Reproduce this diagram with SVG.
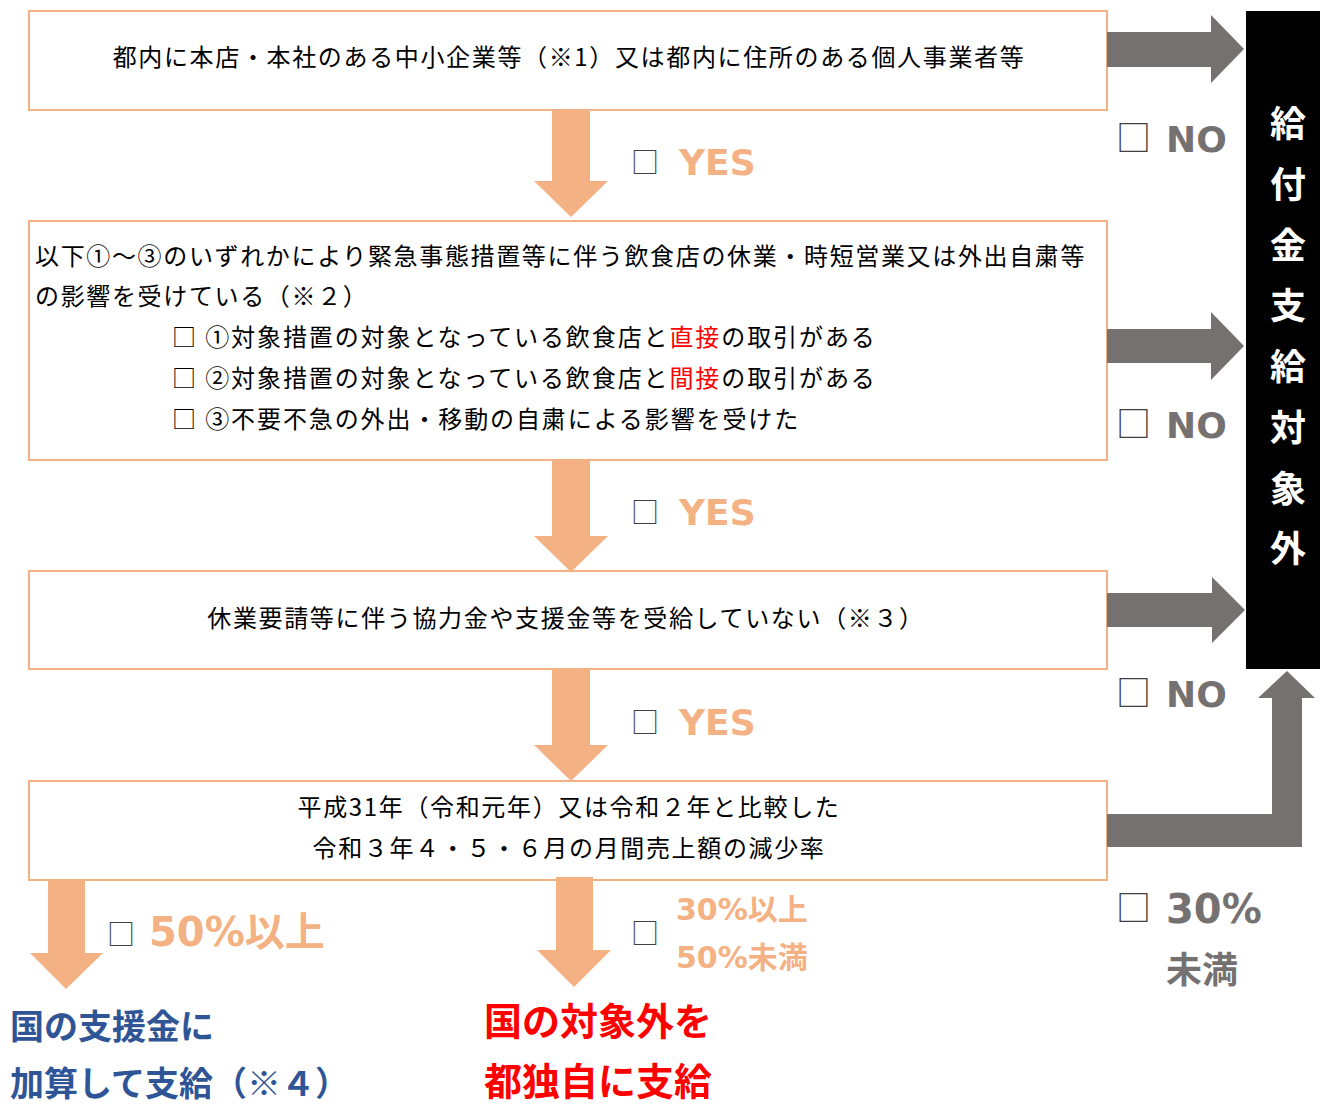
<svg xmlns="http://www.w3.org/2000/svg" width="1320" height="1106" viewBox="0 0 1320 1106">
<style>
.box{fill:#fff;stroke:#F4B183;stroke-width:2}
.t{font-family:"Noto Sans CJK JP","Noto Sans",sans-serif;font-size:24px;fill:#000;letter-spacing:1.65px}
.red{fill:#FF0000}
.oa{fill:#F4B183}
.ga{fill:#767171}
.cb{font-family:"Noto Sans CJK JP",sans-serif;fill:#404040}
.yes{font-family:"DejaVu Sans","Noto Sans CJK JP",sans-serif;font-weight:bold;font-size:36px;fill:#F4B183}
.no{font-family:"DejaVu Sans","Noto Sans CJK JP",sans-serif;font-weight:bold;font-size:36px;fill:#767171}
.vt{font-family:"Noto Sans CJK JP",sans-serif;font-weight:bold;font-size:36px;fill:#fff}
.blue{font-family:"Noto Sans CJK JP",sans-serif;font-weight:bold;font-size:34px;fill:#2F5597}
.rb{font-family:"Noto Sans CJK JP",sans-serif;font-weight:bold;font-size:38px;fill:#FF0000}
</style>
<g id="node-1">
<rect class="box" x="29" y="11" width="1078" height="99"/>
<text class="t" x="569" y="66" text-anchor="middle">都内に本店・本社のある中小企業等（※1）又は都内に住所のある個人事業者等</text>
</g>
<g id="node-2">
<rect class="box" x="29" y="221" width="1078" height="239"/>
<text class="t" x="35" y="265">以下①～③のいずれかにより緊急事態措置等に伴う飲食店の休業・時短営業又は外出自粛等</text>
<text class="t" x="35" y="305">の影響を受けている（※２）</text>
<text class="t" x="172" y="346" style="letter-spacing:1.9px">□ ①対象措置の対象となっている飲食店と<tspan class="red">直接</tspan>の取引がある</text>
<text class="t" x="172" y="387" style="letter-spacing:1.9px">□ ②対象措置の対象となっている飲食店と<tspan class="red">間接</tspan>の取引がある</text>
<text class="t" x="172" y="428" style="letter-spacing:1.9px">□ ③不要不急の外出・移動の自粛による影響を受けた</text>
</g>
<g id="node-3">
<rect class="box" x="29" y="571" width="1078" height="98"/>
<text class="t" x="566" y="627" text-anchor="middle">休業要請等に伴う協力金や支援金等を受給していない（※３）</text>
</g>
<g id="node-4">
<rect class="box" x="29" y="781" width="1078" height="99"/>
<text class="t" x="569" y="816" text-anchor="middle">平成31年（令和元年）又は令和２年と比較した</text>
<text class="t" x="569" y="857" text-anchor="middle">令和３年４・５・６月の月間売上額の減少率</text>
</g>
<g id="node-out">
<rect x="1246" y="11" width="74" height="658" fill="#000"/>
<text class="vt" x="1288" y="137" text-anchor="middle">給</text>
<text class="vt" x="1288" y="198" text-anchor="middle">付</text>
<text class="vt" x="1288" y="259" text-anchor="middle">金</text>
<text class="vt" x="1288" y="319" text-anchor="middle">支</text>
<text class="vt" x="1288" y="380" text-anchor="middle">給</text>
<text class="vt" x="1288" y="441" text-anchor="middle">対</text>
<text class="vt" x="1288" y="502" text-anchor="middle">象</text>
<text class="vt" x="1288" y="562" text-anchor="middle">外</text>
</g>
<g id="result-1">
<text class="blue" x="10" y="1039">国の支援金に</text>
<text class="blue" x="10" y="1096">加算して支給（※４）</text>
</g>
<g id="result-2">
<text class="rb" x="484" y="1035">国の対象外を</text>
<text class="rb" x="484" y="1095">都独自に支給</text>
</g>
<g id="connectors">
<polygon class="ga" points="1107,32 1211,32 1211,15 1244,49 1211,83 1211,67 1107,67"/>
<polygon class="ga" points="1107,329 1211,329 1211,312 1244,346 1211,380 1211,363 1107,363"/>
<polygon class="ga" points="1107,593 1212,593 1212,577 1245,610 1212,643 1212,627 1107,627"/>
<polygon class="ga" points="1107,814 1272,814 1272,698 1258,698 1287,671 1315,698 1302,698 1302,847 1107,847"/>
<polygon class="oa" points="552,110 590,110 590,181 608,181 571,217 534,181 552,181"/>
<polygon class="oa" points="552,460 590,460 590,536 608,536 571,572 534,536 552,536"/>
<polygon class="oa" points="552,669 590,669 590,745 608,745 571,781 534,745 552,745"/>
<polygon class="oa" points="48,880 85,880 85,953 103,953 66,989 30,953 48,953"/>
<polygon class="oa" points="556,877 593,877 593,950 611,950 574,987 537,950 556,950"/>
<text class="cb" x="631" y="173" font-size="28">□</text>
<text class="yes" x="679" y="175">YES</text>
<text class="cb" x="631" y="523" font-size="28">□</text>
<text class="yes" x="679" y="525">YES</text>
<text class="cb" x="631" y="733" font-size="28">□</text>
<text class="yes" x="679" y="735">YES</text>
<text class="cb" x="1116" y="151" font-size="35">□</text>
<text class="no" x="1166" y="152">NO</text>
<text class="cb" x="1116" y="437" font-size="35">□</text>
<text class="no" x="1166" y="438">NO</text>
<text class="cb" x="1116" y="706" font-size="35">□</text>
<text class="no" x="1166" y="707">NO</text>
<text class="cb" x="107" y="945" font-size="28">□</text>
<text class="yes" x="149" y="946" style="font-size:40px">50%以上</text>
<text class="cb" x="631" y="944" font-size="28">□</text>
<text class="yes" x="676" y="920" style="font-size:30px">30%以上</text>
<text class="yes" x="676" y="968" style="font-size:30px">50%未満</text>
<text class="cb" x="1116" y="921" font-size="35">□</text>
<text class="no" x="1166" y="923" style="font-size:40px">30%</text>
<text class="no" x="1166" y="983" style="font-size:36px">未満</text>
</g>
</svg>
